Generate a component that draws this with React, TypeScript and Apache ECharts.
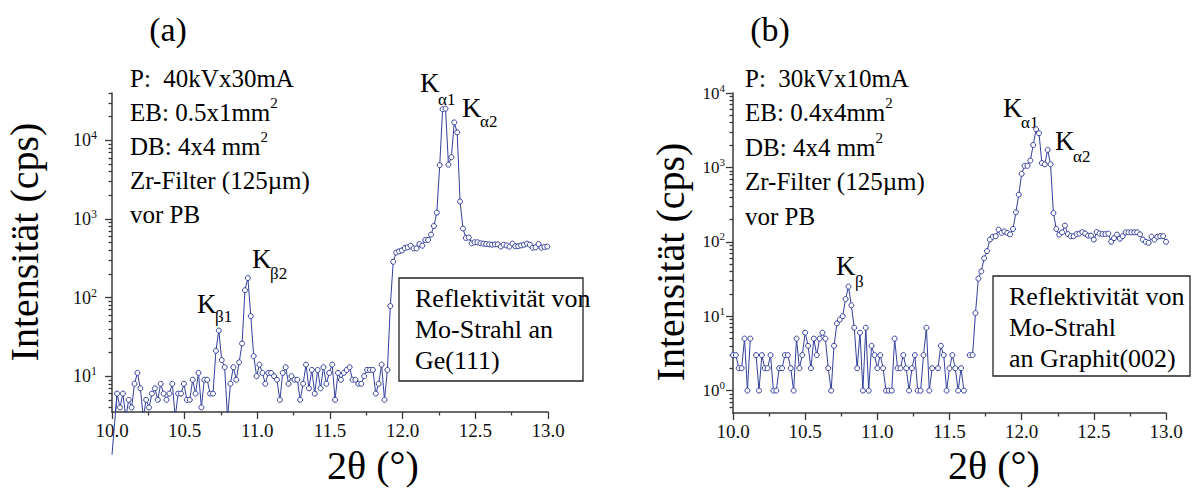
import React, { useEffect, useRef } from 'react';
import * as echarts from 'echarts';

const FONT = 'Liberation Serif, DejaVu Serif, Noto Serif, Times New Roman, Times, serif';
const BLUE = '#33409c';
const AXIS = '#3a3a3a';

// ---------- panel (a): Ge(111), 40kV x 30mA ----------
const leftFirstX = 10.0;
const leftScanStart = 10.035;
const scanStep = 0.02;
const leftCounts = [
  1,
  6, 4, 6, 3, 5, 4, 8, 11, 7, 3,
  5, 4, 6, 7, 5, 8, 6, 5, 6, 8,
  3, 6, 6, 8, 5, 5, 9, 6, 11, 4,
  9, 9, 6, 6, 21, 38, 16, 13, 3, 8,
  13, 9, 15, 26, 124, 177, 58, 18, 10, 14,
  11, 8, 11, 11, 10, 9, 5, 11, 13, 8,
  10, 9, 9, 5, 8, 14, 7, 12, 6, 12,
  7, 13, 8, 11, 14, 5, 11, 9, 11, 12,
  13, 9, 9, 8, 8, 10, 12, 12, 12, 6,
  8, 14, 5, 12, 78, 285,
  373, 387, 398, 427, 436, 457, 422, 422, 479, 457,
  540, 540, 632, 813, 1205, 4830, 24900, 25300, 4900, 6100,
  16900, 12600, 1667, 755, 573, 580, 490, 505, 505, 490,
  485, 480, 475, 470, 475, 475, 445, 470, 460, 445,
  485, 450, 450, 460, 470, 485, 470, 430, 435, 480,
  430, 440, 445, 470,
];

// ---------- panel (b): Graphit(002), 30kV x 10mA ----------
const rightScanStart = 10.0;
const rightCounts: (number | string)[] = [
  3, 3, 2, 2, 5, 1, 5, '-', 3, 1,
  3, 2, 2, 3, 1, 1, 2, 2, 3, 3,
  2, 1, 5, 2, 3, 6, 4, 2, 5, 3,
  5, 6, 5, 2, 1, 4, 8, 9, 10, 17,
  25, 14, 7, 2, 6, 1, 7, 1, 4, 3,
  2, 3, 2, 1, 1, 1, 5, 2, 2, 3,
  2, 1, 2, 3, 1, 1, 3, 7, 1, 2,
  '-', 2, 4, 3, 1, 2, 3, 2, 1, 2,
  1, '-', 3, 3,
  11, 32, 40, 60, 75, 107, 117, 119, 146, 132,
  138, 132, 126, 149, 249, 430, 820, 1050, 1050, 1235,
  2000, 3260, 2880, 1143, 1100, 1720, 1100, 244, 149, 125,
  134, 165, 127, 119, 119, 127, 129, 135, 129, 121,
  121, 107, 135, 129, 127, 127, 129, 100, 112, 125,
  110, 119, 134, 134, 134, 134, 134, 126, 107, 100,
  97, 117, 107, 117, 119, 119, 100,
];

// ---------- axis tick values ----------
const xMin = 10;
const xMax = 13;
const xInterval = 0.5;
const leftYMin = 3.5;
const leftYMax = 40000;
const rightYMin = 0.5;
const rightYMax = 10000;
const leftMajor = [10, 100, 1000, 10000];
const rightMajor = [1, 10, 100, 1000, 10000];
const leftMinor = [4, 5, 6, 7, 8, 9, 20, 30, 40, 50, 60, 70, 80, 90, 200, 300, 400, 500, 600, 700, 800, 900,
  2000, 3000, 4000, 5000, 6000, 7000, 8000, 9000, 20000, 30000, 40000];
const rightMinor = [0.6, 0.7, 0.8, 0.9, 2, 3, 4, 5, 6, 7, 8, 9, 20, 30, 40, 50, 60, 70, 80, 90,
  200, 300, 400, 500, 600, 700, 800, 900, 2000, 3000, 4000, 5000, 6000, 7000, 8000, 9000];

const leftData = leftCounts.map((c, i) => [i === 0 ? leftFirstX : leftScanStart + scanStep * (i - 1), c]);
const rightData = rightCounts.map((c, i) => [rightScanStart + scanStep * i, c]);

const axisLineStyle = { color: AXIS, width: 1.5 };
const tickLineStyle = { color: AXIS, width: 1.3 };

function xAxisOf(gridIndex: number) {
  return {
    type: 'value',
    gridIndex,
    min: xMin,
    max: xMax,
    interval: xInterval,
    axisLine: { show: true, onZero: false, lineStyle: axisLineStyle },
    axisTick: { show: true, inside: false, length: 7, lineStyle: tickLineStyle },
    minorTick: { show: true, splitNumber: 2, length: 3.5, lineStyle: tickLineStyle },
    splitLine: { show: false },
    minorSplitLine: { show: false },
    axisLabel: {
      fontFamily: FONT,
      fontSize: 19,
      color: '#111',
      margin: 9,
      formatter: (v: number) => v.toFixed(1),
    },
  };
}

function yMajorOf(gridIndex: number, min: number, max: number, major: number[], margin: number, fs: number) {
  return {
    type: 'log',
    logBase: 10,
    gridIndex,
    min,
    max,
    position: 'left',
    axisLine: { show: true, onZero: false, lineStyle: axisLineStyle },
    axisTick: { show: true, inside: false, length: 7, customValues: major, lineStyle: tickLineStyle },
    splitLine: { show: false },
    axisLabel: {
      customValues: major,
      margin,
      formatter: (v: number) => `{b|10}{s|${Math.round(Math.log10(v))}}`,
      rich: {
        b: { fontFamily: FONT, fontSize: fs, color: '#111', lineHeight: 22 },
        s: { fontFamily: FONT, fontSize: Math.round(fs * 0.65), color: '#111', lineHeight: 12, verticalAlign: 'top' },
      },
    },
  };
}

function yMinorOf(gridIndex: number, min: number, max: number, minor: number[]) {
  return {
    type: 'log',
    logBase: 10,
    gridIndex,
    min,
    max,
    position: 'left',
    axisLine: { show: false },
    axisLabel: { show: false },
    splitLine: { show: false },
    axisTick: { show: true, inside: false, length: 3.5, customValues: minor, lineStyle: tickLineStyle },
  };
}

function lineSeries(data: any[], xi: number, yi: number, extra: any = {}) {
  return {
    type: 'line',
    xAxisIndex: xi,
    yAxisIndex: yi,
    data,
    symbol: 'circle',
    symbolSize: 5,
    showSymbol: true,
    connectNulls: false,
    clip: true,
    itemStyle: { color: '#fff', borderColor: BLUE, borderWidth: 1 },
    lineStyle: { color: BLUE, width: 1 },
    emphasis: { disabled: true },
    z: 3,
    ...extra,
  };
}

function text(t: string, x: number, y: number, fontSize: number, extra: any = {}, elExtra: any = {}) {
  return {
    type: 'text',
    x,
    y,
    ...elExtra,
    style: { text: t, fontSize, fontFamily: FONT, fill: '#000', ...extra },
  };
}

const supRich = {
  s: { fontFamily: FONT, fontSize: 15, lineHeight: 22, verticalAlign: 'top', fill: '#000' },
};

function peakLabel(sub: string, kx: number, kMid: number, sx: number, sMid: number) {
  return [
    text('K', kx, kMid, 27, { verticalAlign: 'middle' }),
    text(sub, sx, sMid, 17, { verticalAlign: 'middle' }),
  ];
}

const graphics: any[] = [
  text('(a)', 168, 29, 34, { align: 'center', verticalAlign: 'middle' }),
  text('(b)', 770, 29, 34, { align: 'center', verticalAlign: 'middle' }),
  text('Intensität (cps)', 24, 242, 40, { align: 'center', verticalAlign: 'middle' }, { rotation: Math.PI / 2 }),
  text('Intensität (cps)', 670, 262, 40, { align: 'center', verticalAlign: 'middle' }, { rotation: Math.PI / 2 }),
  text('2θ (°)', 373, 465, 40, { align: 'center', verticalAlign: 'middle' }),
  text('2θ (°)', 994, 465, 40, { align: 'center', verticalAlign: 'middle' }),
  text('P:  40kVx30mA\nEB: 0.5x1mm{s|2}\nDB: 4x4 mm{s|2}\nZr-Filter (125µm)\nvor PB', 130, 61, 25,
    { lineHeight: 34, verticalAlign: 'top', rich: supRich }),
  text('P:  30kVx10mA\nEB: 0.4x4mm{s|2}\nDB: 4x4 mm{s|2}\nZr-Filter (125µm)\nvor PB', 745, 61, 25,
    { lineHeight: 34.5, verticalAlign: 'top', rich: supRich }),
  {
    type: 'rect',
    shape: { x: 399, y: 278, width: 184, height: 103 },
    style: { fill: '#fff', stroke: '#222', lineWidth: 1.3 },
  },
  text('Reflektivität von\nMo-Strahl an\nGe(111)', 415, 283, 26, { lineHeight: 31, verticalAlign: 'top' }),
  {
    type: 'rect',
    shape: { x: 993, y: 276, width: 197, height: 100 },
    style: { fill: '#fff', stroke: '#222', lineWidth: 1.3 },
  },
  text('Reflektivität von\nMo-Strahl\nan Graphit(002)', 1009, 281, 26, { lineHeight: 31, verticalAlign: 'top' }),
  ...peakLabel('β1', 197, 304, 215, 316),
  ...peakLabel('β2', 252, 259, 270, 273),
  ...peakLabel('α1', 420, 83, 438, 99),
  ...peakLabel('α2', 462, 108, 480, 121),
  ...peakLabel('β', 836, 266, 855, 281),
  ...peakLabel('α1', 1003, 108, 1021, 122),
  ...peakLabel('α2', 1055, 141, 1073, 156),
];

const option: any = {
  animation: false,
  backgroundColor: '#fff',
  textStyle: { fontFamily: FONT },
  grid: [
    { left: 112, top: 93, width: 436, height: 319, containLabel: false, outerBoundsMode: 'none' },
    { left: 733, top: 93, width: 433, height: 320, containLabel: false, outerBoundsMode: 'none' },
  ],
  xAxis: [xAxisOf(0), xAxisOf(1)],
  yAxis: [
    yMajorOf(0, leftYMin, leftYMax, leftMajor, 15, 18),
    yMajorOf(1, rightYMin, rightYMax, rightMajor, 8, 17),
    yMinorOf(0, leftYMin, leftYMax, leftMinor),
    yMinorOf(1, rightYMin, rightYMax, rightMinor),
  ],
  series: [
    lineSeries(leftData, 0, 0),
    lineSeries(leftData.slice(0, 2), 0, 0, { clip: false, showSymbol: false, symbol: 'none', z: 2 }),
    lineSeries(rightData, 1, 1),
  ],
  graphic: { elements: graphics },
};

export default function App() {
  const ref = useRef<HTMLDivElement>(null);
  useEffect(() => {
    const chart = echarts.init(ref.current!, null, { renderer: 'svg' });
    chart.setOption(option);
    return () => chart.dispose();
  }, []);
  return (
    <div
      ref={ref}
      style={{ position: 'fixed', left: 0, top: 0, width: 1202, height: 490, background: '#fff' }}
    />
  );
}
